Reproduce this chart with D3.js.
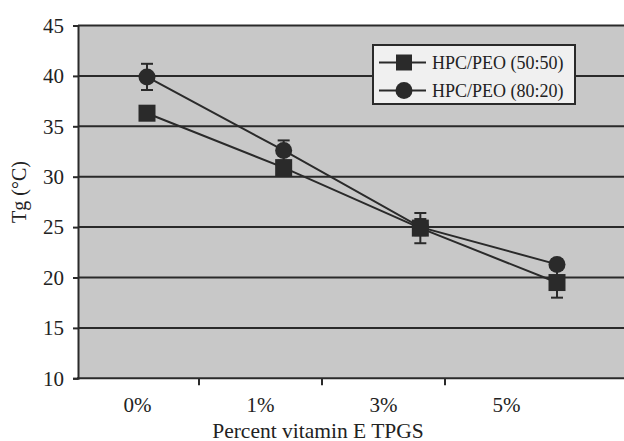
<!DOCTYPE html>
<html>
<head>
<meta charset="utf-8">
<script src="https://cdn.jsdelivr.net/npm/d3@7"></script>
<style>
  body { margin: 0; background: #fff; }
  svg text { font-family: "Liberation Serif", "Times New Roman", "DejaVu Serif", serif; fill: #222; }
</style>
</head>
<body>
<svg width="624" height="441"></svg>
<script>
// data
const categories = ["0%", "1%", "3%", "5%"];
const series5050 = [36.3, 30.9, 24.9, 19.5];
const err5050 = [0.4, 0.5, 1.5, 1.5];
const series8020 = [39.9, 32.6, 25.0, 21.3];
const err8020 = [1.3, 1.0, 0.8, 0.5];
const yTicks = [10, 15, 20, 25, 30, 35, 40, 45];

const width = 624;
const height = 441;
const dark = "#2a2a2a";
const serif = '"Liberation Serif", "Times New Roman", "DejaVu Serif", serif';

const svg = d3.select("svg");

const yScale = d3.scaleLinear().domain([10, 45]).range([378.3, 25.5]);
// category bands for ticks/labels
const xBand = d3.scaleBand().domain(categories).range([76, 568]);
// marker positions (the points sit right of the label centres in the original)
const xPoint = d3.scalePoint().domain(categories).range([147, 557]);

const left = 78;

// plot area
svg.append("rect")
  .attr("x", left)
  .attr("y", yScale(45))
  .attr("width", width - left)
  .attr("height", yScale(10) - yScale(45))
  .attr("fill", "#c8c8c8");

// gridlines
svg.append("g")
  .selectAll("line")
  .data(yTicks.filter(d => d > 10))
  .join("line")
    .attr("x1", left)
    .attr("x2", width)
    .attr("y1", d => yScale(d))
    .attr("y2", d => yScale(d))
    .attr("stroke", dark)
    .attr("stroke-width", 2);

// y axis
const yAxis = svg.append("g")
  .attr("transform", `translate(${left},0)`)
  .call(d3.axisLeft(yScale).tickValues(yTicks).tickSize(5).tickPadding(9));
yAxis.attr("font-family", serif);
yAxis.select(".domain").attr("stroke", dark).attr("stroke-width", 2);
yAxis.selectAll(".tick line").attr("stroke", dark).attr("stroke-width", 2);
yAxis.selectAll(".tick text")
  .attr("font-size", 21)
  .attr("x", -14)
  .attr("fill", "#222");

// x axis line
svg.append("line")
  .attr("x1", left - 1)
  .attr("x2", width)
  .attr("y1", yScale(10))
  .attr("y2", yScale(10))
  .attr("stroke", dark)
  .attr("stroke-width", 2);

// x ticks between categories
svg.append("g")
  .selectAll("line")
  .data(categories.slice(1))
  .join("line")
    .attr("x1", d => xBand(d))
    .attr("x2", d => xBand(d))
    .attr("y1", yScale(10))
    .attr("y2", yScale(10) + 7)
    .attr("stroke", dark)
    .attr("stroke-width", 2);

svg.append("g")
  .selectAll("text")
  .data(categories)
  .join("text")
    .attr("x", d => xBand(d) + xBand.bandwidth() / 2)
    .attr("y", 411.5)
    .attr("text-anchor", "middle")
    .attr("font-size", 21)
    .text(d => d);

// axis titles
svg.append("text")
  .attr("x", 318)
  .attr("y", 437.5)
  .attr("text-anchor", "middle")
  .attr("font-size", 21.5)
  .text("Percent vitamin E TPGS");

svg.append("text")
  .attr("transform", "rotate(-90)")
  .attr("x", -192)
  .attr("y", 25.5)
  .attr("text-anchor", "middle")
  .attr("font-size", 20)
  .text("Tg (°C)");

// series
const line = d3.line()
  .x((d, i) => xPoint(categories[i]))
  .y(d => yScale(d));

[series5050, series8020].forEach(s => {
  svg.append("path")
    .datum(s)
    .attr("d", line)
    .attr("fill", "none")
    .attr("stroke", dark)
    .attr("stroke-width", 2);
});

function errorBars(values, errs) {
  const g = svg.append("g").attr("stroke", dark).attr("stroke-width", 2);
  values.forEach((v, i) => {
    const x = xPoint(categories[i]);
    const top = yScale(v + errs[i]);
    const bot = yScale(v - errs[i]);
    g.append("line").attr("x1", x).attr("x2", x).attr("y1", top).attr("y2", bot);
    g.append("line").attr("x1", x - 6).attr("x2", x + 6).attr("y1", top).attr("y2", top);
    g.append("line").attr("x1", x - 6).attr("x2", x + 6).attr("y1", bot).attr("y2", bot);
  });
}
errorBars(series8020, err8020);
errorBars(series5050, err5050);

svg.append("g")
  .selectAll("circle")
  .data(series8020)
  .join("circle")
    .attr("cx", (d, i) => xPoint(categories[i]))
    .attr("cy", d => yScale(d))
    .attr("r", 8.5)
    .attr("fill", dark);

svg.append("g")
  .selectAll("rect")
  .data(series5050)
  .join("rect")
    .attr("x", (d, i) => xPoint(categories[i]) - 8.5)
    .attr("y", d => yScale(d) - 8.5)
    .attr("width", 17)
    .attr("height", 17)
    .attr("fill", dark);

// legend
const legend = svg.append("g");
legend.append("rect")
  .attr("x", 373)
  .attr("y", 45)
  .attr("width", 202)
  .attr("height", 59)
  .attr("fill", "#f0f0f0")
  .attr("stroke", dark)
  .attr("stroke-width", 2);

const legendItems = [
  { label: "HPC/PEO (50:50)", shape: "square" },
  { label: "HPC/PEO (80:20)", shape: "circle" }
];
legendItems.forEach((item, i) => {
  const y = 62.5 + i * 28;
  legend.append("line")
    .attr("x1", 379).attr("x2", 426)
    .attr("y1", y).attr("y2", y)
    .attr("stroke", dark).attr("stroke-width", 2);
  if (item.shape === "square") {
    legend.append("rect")
      .attr("x", 404 - 8).attr("y", y - 8)
      .attr("width", 16).attr("height", 16)
      .attr("fill", dark);
  } else {
    legend.append("circle")
      .attr("cx", 404).attr("cy", y)
      .attr("r", 8.5)
      .attr("fill", dark);
  }
  legend.append("text")
    .attr("x", 432)
    .attr("y", y + 6.5)
    .attr("font-size", 18)
    .text(item.label);
});
</script>
</body>
</html>
